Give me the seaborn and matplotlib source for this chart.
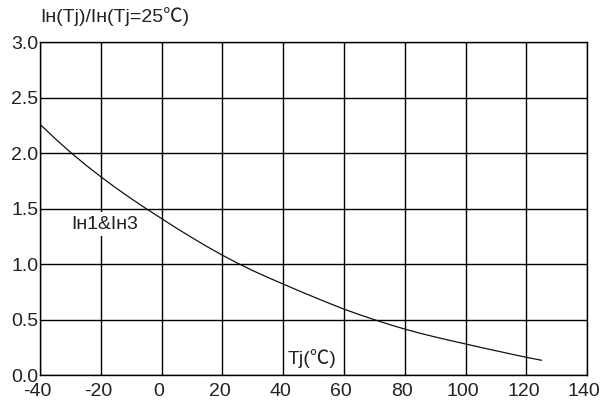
import matplotlib
matplotlib.use("Agg")
import matplotlib.pyplot as plt
import matplotlib.transforms as mtransforms
import seaborn as sns
import pandas as pd

# junction temperature (degC) and normalized holding current IH(Tj)/IH(25C)
tj = [-40, -35, -30, -25, -20, -15, -10, -5, 0, 5, 10, 15, 20, 25, 30, 35, 40, 45,
      50, 55, 60, 65, 70, 75, 80, 85, 90, 95, 100, 105, 110, 115, 120, 125]
ih_ratio = [2.26, 2.13, 2.008, 1.894, 1.787, 1.686, 1.590, 1.498, 1.41, 1.322, 1.238,
            1.157, 1.08, 1.008, 0.941, 0.879, 0.82, 0.761, 0.704, 0.648, 0.594, 0.545,
            0.499, 0.455, 0.414, 0.377, 0.343, 0.311, 0.28, 0.249, 0.219, 0.189, 0.16,
            0.133]

x_ticks = [-40, -20, 0, 20, 40, 60, 80, 100, 120, 140]
y_ticks = [0.0, 0.5, 1.0, 1.5, 2.0, 2.5, 3.0]

sns.set_style("white")
plt.rcParams['font.family'] = ['Liberation Sans', 'Noto Sans CJK SC', 'DejaVu Sans']
plt.rcParams['axes.unicode_minus'] = False

df = pd.DataFrame({"Tj": tj, "ratio": ih_ratio})

fig = plt.figure(figsize=(6.04, 4.09), dpi=100)
ax = fig.add_axes([0.0662, 0.083, 0.906, 0.814])

sns.lineplot(data=df, x="Tj", y="ratio", ax=ax, color="#111111", linewidth=0.9, zorder=3)

ax.set_xlim(-40, 140)
ax.set_ylim(0, 3.0)
ax.set_xticks(x_ticks)
ax.set_yticks(y_ticks)
ax.set_xticklabels([str(v) for v in x_ticks])
ax.set_yticklabels([f"{v:.1f}" for v in y_ticks])
ax.grid(True, color="black", linewidth=1.0)
ax.set_axisbelow(True)
for s in ax.spines.values():
    s.set_color("black")
    s.set_linewidth(1.0)
ax.tick_params(axis="both", length=0, labelsize=14, colors="#222222")
ax.tick_params(axis="x", pad=6)
ax.tick_params(axis="y", pad=1)
ax.set_xlabel("")
ax.set_ylabel("")

# x labels sit a little left of their grid lines in the original
shift = mtransforms.ScaledTranslation(-3 / 100, 0, fig.dpi_scale_trans)
for lbl in ax.get_xticklabels():
    lbl.set_transform(lbl.get_transform() + shift)

fig.text(40 / 604, 1 - 17 / 409, "Iʜ(Tj)/Iʜ(Tj=25℃)", fontsize=14, color="#222222",
         va="center", ha="left")
ax.text(-18.6, 1.36, "Iʜ1&Iʜ3", fontsize=14, color="#222222", ha="center", va="center",
        zorder=1.5,
        bbox=dict(facecolor="white", edgecolor="none", boxstyle="square,pad=0.18"))
ax.text(49.6, 0.15, "Tj(℃)", fontsize=14, color="#222222", ha="center", va="center")

fig.savefig("out.png", dpi=100)
